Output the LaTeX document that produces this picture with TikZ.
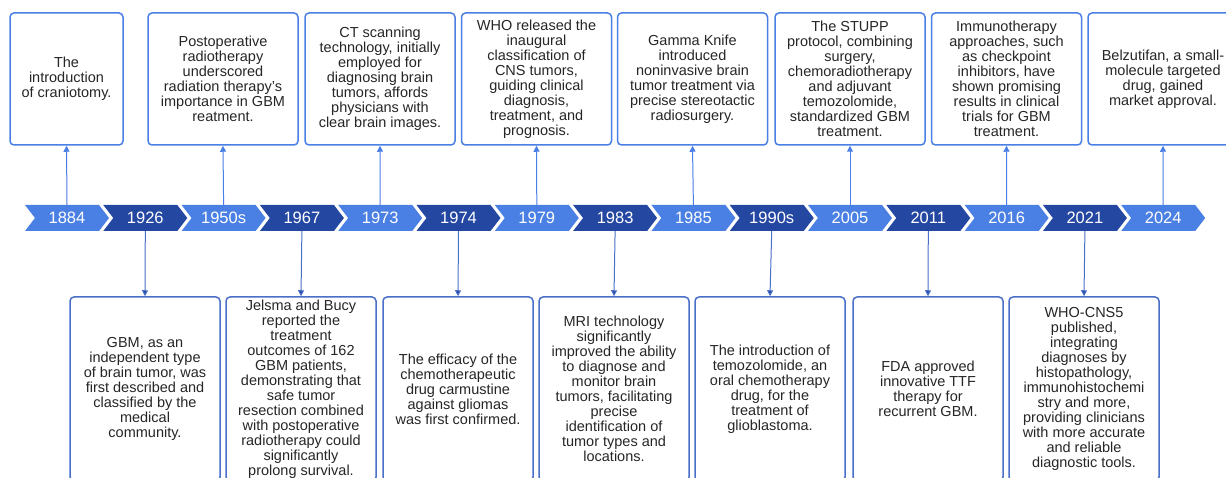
\documentclass[tikz,border=0pt]{standalone}
\usepackage{fontspec}
\setmainfont{Liberation Sans}
\usetikzlibrary{shapes.symbols,arrows.meta}

\definecolor{chevlight}{HTML}{4A7FE3}
\definecolor{chevdark}{HTML}{2447A2}
\definecolor{topline}{HTML}{4A7FE6}
\definecolor{botline}{HTML}{4A6FC8}
\definecolor{boxtext}{HTML}{262626}

\tikzset{
  year/.style={signal, signal to=east, signal from=west, signal pointer angle=105,
    minimum width=84pt, minimum height=26pt, inner sep=0pt, text=white,
    font=\fontsize{16.5}{18}\selectfont},
  yearlight/.style={year, fill=chevlight},
  yeardark/.style={year, fill=chevdark},
  event/.style={draw, rounded corners=4pt, line width=1.5pt, fill=white,
    minimum width=150pt, inner sep=0pt, align=center, text=boxtext,
    font=\fontsize{14.5}{15}\selectfont},
  topbox/.style={event, draw=topline, minimum height=132pt},
  botbox/.style={event, draw=botline, minimum height=184pt},
  uplink/.style={draw=topline, line width=1pt, -{Triangle[width=6pt,length=6pt]}},
  downlink/.style={draw=botline, line width=1pt, -{Triangle[width=6pt,length=6pt,fill=chevdark]}}
}

\begin{document}
\begin{tikzpicture}[x=1pt,y=-1pt]
  \useasboundingbox (0,0) rectangle (1226,478);
  \clip (0,0) rectangle (1226,478);

  % timeline
  \node[yearlight] (y1884) at (67,218) {1884};
  \node[yeardark]  (y1926) at (145.3,218) {1926};
  \node[yearlight] (y1950) at (223.6,218) {1950s};
  \node[yeardark]  (y1967) at (301.9,218) {1967};
  \node[yearlight] (y1973) at (380.2,218) {1973};
  \node[yeardark]  (y1974) at (458.5,218) {1974};
  \node[yearlight] (y1979) at (536.8,218) {1979};
  \node[yeardark]  (y1983) at (615.1,218) {1983};
  \node[yearlight] (y1985) at (693.4,218) {1985};
  \node[yeardark]  (y1990) at (771.7,218) {1990s};
  \node[yearlight] (y2005) at (850,218) {2005};
  \node[yeardark]  (y2011) at (928.3,218) {2011};
  \node[yearlight] (y2016) at (1006.6,218) {2016};
  \node[yeardark]  (y2021) at (1084.9,218) {2021};
  \node[yearlight] (y2024) at (1163.2,218) {2024};

  % events above
  \node[topbox, minimum width=113pt] (t1884) at (66.5,79) {The\\introduction\\of craniotomy.};
  \node[topbox] (t1950) at (223,79) {Postoperative\\radiotherapy\\underscored\\radiation therapy's\\importance in GBM\\reatment.};
  \node[topbox] (t1973) at (380,79) {CT scanning\\technology, initially\\employed for\\diagnosing brain\\tumors, affords\\physicians with\\clear brain images.};
  \node[topbox] (t1979) at (536.5,79) {WHO released the\\inaugural\\classification of\\CNS tumors,\\guiding clinical\\diagnosis,\\treatment, and\\prognosis.};
  \node[topbox] (t1985) at (692.5,79) {Gamma Knife\\introduced\\noninvasive brain\\tumor treatment via\\precise stereotactic\\radiosurgery.};
  \node[topbox] (t2005) at (850,79) {The STUPP\\protocol, combining\\surgery,\\chemoradiotherapy\\and adjuvant\\temozolomide,\\standardized GBM\\treatment.};
  \node[topbox] (t2016) at (1006.5,79) {Immunotherapy\\approaches, such\\as checkpoint\\inhibitors, have\\shown promising\\results in clinical\\trials for GBM\\treatment.};
  \node[topbox] (t2024) at (1163,79) {Belzutifan, a small-\\molecule targeted\\drug, gained\\market approval.};

  % events below
  \node[botbox] (b1926) at (145,389) {GBM, as an\\independent type\\of brain tumor, was\\first described and\\classified by the\\medical\\community.};
  \node[botbox] (b1967) at (301,389) {Jelsma and Bucy\\reported the\\treatment\\outcomes of 162\\GBM patients,\\demonstrating that\\safe tumor\\resection combined\\with postoperative\\radiotherapy could\\significantly\\prolong survival.};
  \node[botbox] (b1974) at (458,389) {The efficacy of the\\chemotherapeutic\\drug carmustine\\against gliomas\\was first confirmed.};
  \node[botbox] (b1983) at (614,389) {MRI technology\\significantly\\improved the ability\\to diagnose and\\monitor brain\\tumors, facilitating\\precise\\identification of\\tumor types and\\locations.};
  \node[botbox] (b1990) at (770,389) {The introduction of\\temozolomide, an\\oral chemotherapy\\drug, for the\\treatment of\\glioblastoma.};
  \node[botbox] (b2011) at (928,389) {FDA approved\\innovative TTF\\therapy for\\recurrent GBM.};
  \node[botbox] (b2021) at (1084,389) {WHO-CNS5\\published,\\integrating\\diagnoses by\\histopathology,\\immunohistochemi\\stry and more,\\providing clinicians\\with more accurate\\and reliable\\diagnostic tools.};

  % connectors
  \draw[uplink] (y1884.north) -- (t1884.south);
  \draw[uplink] (y1950.north) -- (t1950.south);
  \draw[uplink] (y1973.north) -- (t1973.south);
  \draw[uplink] (y1979.north) -- (t1979.south);
  \draw[uplink] (y1985.north) -- (t1985.south);
  \draw[uplink] (y2005.north) -- (t2005.south);
  \draw[uplink] (y2016.north) -- (t2016.south);
  \draw[uplink] (y2024.north) -- (t2024.south);
  \draw[downlink] (y1926.south) -- (b1926.north);
  \draw[downlink] (y1967.south) -- (b1967.north);
  \draw[downlink] (y1974.south) -- (b1974.north);
  \draw[downlink] (y1983.south) -- (b1983.north);
  \draw[downlink] (y1990.south) -- (b1990.north);
  \draw[downlink] (y2011.south) -- (b2011.north);
  \draw[downlink] (y2021.south) -- (b2021.north);
\end{tikzpicture}
\end{document}
